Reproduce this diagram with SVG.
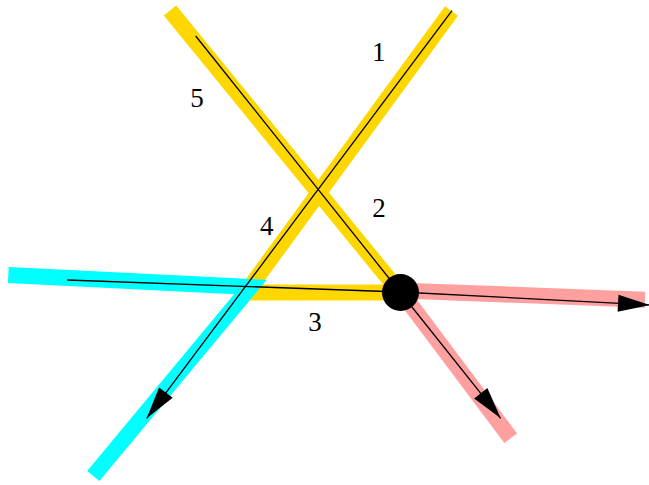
<svg xmlns="http://www.w3.org/2000/svg" width="649" height="485" viewBox="0 0 649 485">
<style>
.band{fill:none;stroke-width:16;stroke-linejoin:miter;stroke-miterlimit:10;stroke-linecap:butt}
.thin{fill:none;stroke:#000;stroke-width:1.3}
.lbl{font-family:"Liberation Serif","Times New Roman",serif;font-size:27px;text-anchor:middle;fill:#000}
</style>
<defs>
<marker id="arr" markerUnits="userSpaceOnUse" markerWidth="34" markerHeight="18" refX="32" refY="8.5" orient="auto" overflow="visible">
<path d="M0,0 L32,8.5 L0,17 z" fill="#000"/>
</marker>
</defs>
<rect width="649" height="485" fill="#fff"/>
<g id="connectors">
<polyline class="band" stroke="#FFD700" points="451.5,11 246,292.5 400,292.5 170,10.5"/>
<polyline class="band" stroke="#00FFFF" points="8.3,275 250.4,287 93.3,476"/>
<polyline class="band" stroke="#FFA0A0" points="645,299.7 400,290.5 510.7,438.3"/>
<path class="thin" d="M195.7,36 L400,292"/>
<path class="thin" d="M67.3,280 L400,292"/>
<path class="thin" d="M452,10.7 L146.7,418.3" marker-end="url(#arr)"/>
<path class="thin" d="M400,292 L500.7,418.3" marker-end="url(#arr)"/>
<path class="thin" d="M400,292 L650,305" marker-end="url(#arr)"/>
</g>
<g id="labels">
<text class="lbl" x="378.7" y="61">1</text>
<text class="lbl" x="379" y="216.7">2</text>
<text class="lbl" x="315" y="331">3</text>
<text class="lbl" x="266.7" y="234.7">4</text>
<text class="lbl" x="197" y="106.7">5</text>
</g>
<g id="node">
<circle cx="400.5" cy="292.5" r="18.5" fill="#000"/>
</g>
</svg>
